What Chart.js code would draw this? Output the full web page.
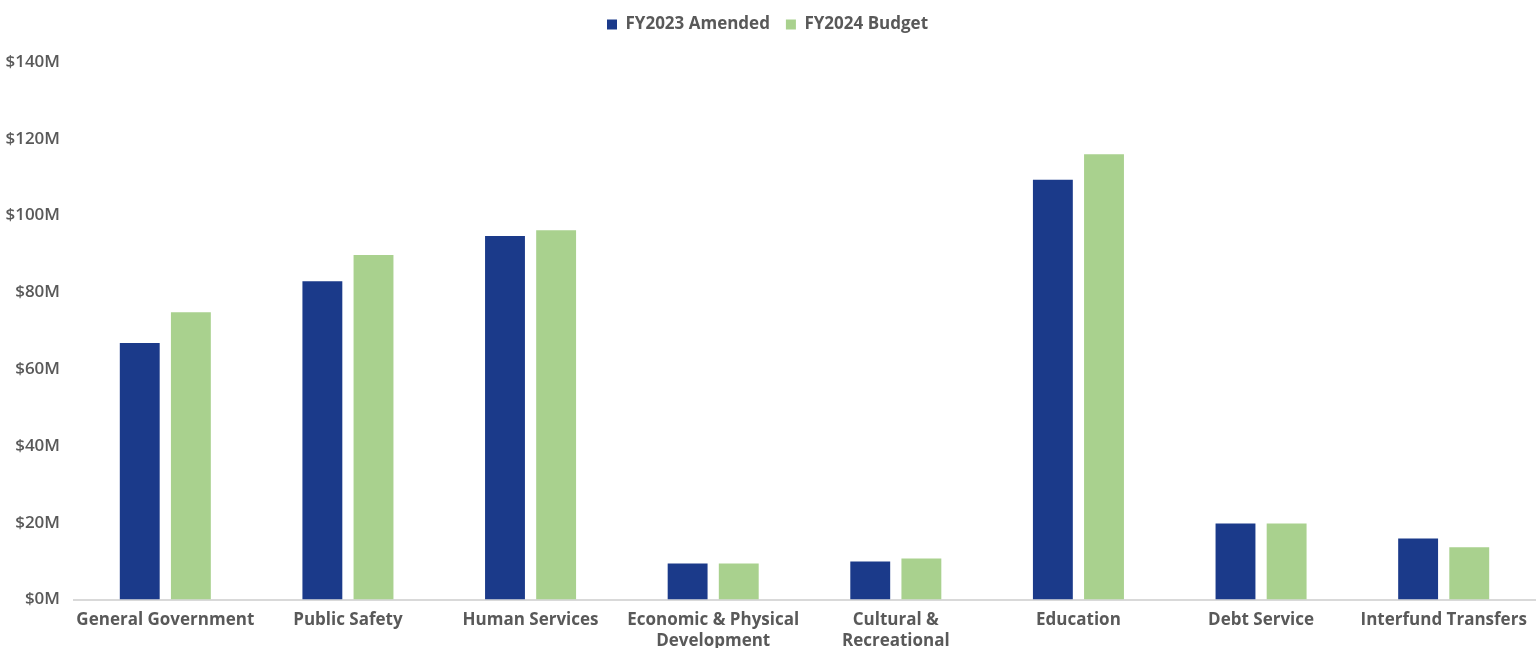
<!DOCTYPE html>
<html lang="en">
<head>
    <meta charset="UTF-8">
    <title>FY2023 Amended vs FY2024 Budget</title>
    <script src="https://cdn.jsdelivr.net/npm/chart.js"></script>
    <style>
        html, body {
            margin: 0;
            padding: 0;
            background: #ffffff;
            overflow: hidden;
        }
        #wrap {
            position: relative;
            width: 1539px;
            height: 662px;
        }
    </style>
</head>
<body>
    <div id="wrap">
        <canvas id="budgetChart"></canvas>
    </div>
    <script>
        const categories = [
            'General Government',
            'Public Safety',
            'Human Services',
            ['Economic & Physical', 'Development'],
            ['Cultural &', 'Recreational'],
            'Education',
            'Debt Service',
            'Interfund Transfers'
        ];
        // values in $M
        const fy2023Amended = [66.8, 82.9, 94.7, 9.4, 9.9, 109.3, 19.8, 15.9];
        const fy2024Budget = [74.8, 89.7, 96.2, 9.4, 10.7, 116.0, 19.8, 13.6];
        const yTicks = [0, 20, 40, 60, 80, 100, 120, 140];

        const textColor = '#595959';
        const fontFamily = "'Open Sans', 'Noto Sans', sans-serif";

        // push the plot area down under the legend
        const legendMargin = {
            id: 'legendMargin',
            beforeInit(chart) {
                const fit = chart.legend.fit;
                chart.legend.fit = function () {
                    fit.bind(chart.legend)();
                    this.height += 19;
                };
            }
        };

        const ctx = document.getElementById('budgetChart').getContext('2d');
        new Chart(ctx, {
            type: 'bar',
            data: {
                labels: categories,
                datasets: [{
                    label: 'FY2023 Amended',
                    data: fy2023Amended,
                    backgroundColor: '#1b3a8a',
                    categoryPercentage: 0.56,
                    barPercentage: 0.78
                }, {
                    label: 'FY2024 Budget',
                    data: fy2024Budget,
                    backgroundColor: '#a9d18e',
                    categoryPercentage: 0.56,
                    barPercentage: 0.78
                }]
            },
            options: {
                responsive: true,
                maintainAspectRatio: false,
                animation: false,
                layout: { padding: { top: 0, right: 4, left: 0, bottom: 0 } },
                plugins: {
                    legend: {
                        position: 'top',
                        labels: {
                            color: textColor,
                            boxWidth: 10,
                            boxHeight: 10,
                            padding: 16,
                            font: { family: fontFamily, size: 17, weight: '700' }
                        }
                    },
                    tooltip: { enabled: false }
                },
                scales: {
                    x: {
                        grid: { display: false, drawTicks: false },
                        border: { display: true, color: '#d9d9d9', width: 2 },
                        ticks: {
                            color: textColor,
                            padding: 10,
                            maxRotation: 0,
                            autoSkip: false,
                            font: { family: fontFamily, size: 17, weight: '700', lineHeight: 1.25 }
                        }
                    },
                    y: {
                        min: 0,
                        max: 140,
                        afterFit: function (scale) { scale.width = 74; },
                        afterBuildTicks: function (scale) {
                            scale.ticks = yTicks.map(v => ({ value: v }));
                        },
                        grid: { display: false, drawTicks: false },
                        border: { display: false },
                        ticks: {
                            color: textColor,
                            padding: 14,
                            font: { family: fontFamily, size: 17, weight: '600' },
                            callback: function (value) { return '$' + value + 'M'; }
                        }
                    }
                }
            },
            plugins: [legendMargin]
        });
    </script>
</body>
</html>
